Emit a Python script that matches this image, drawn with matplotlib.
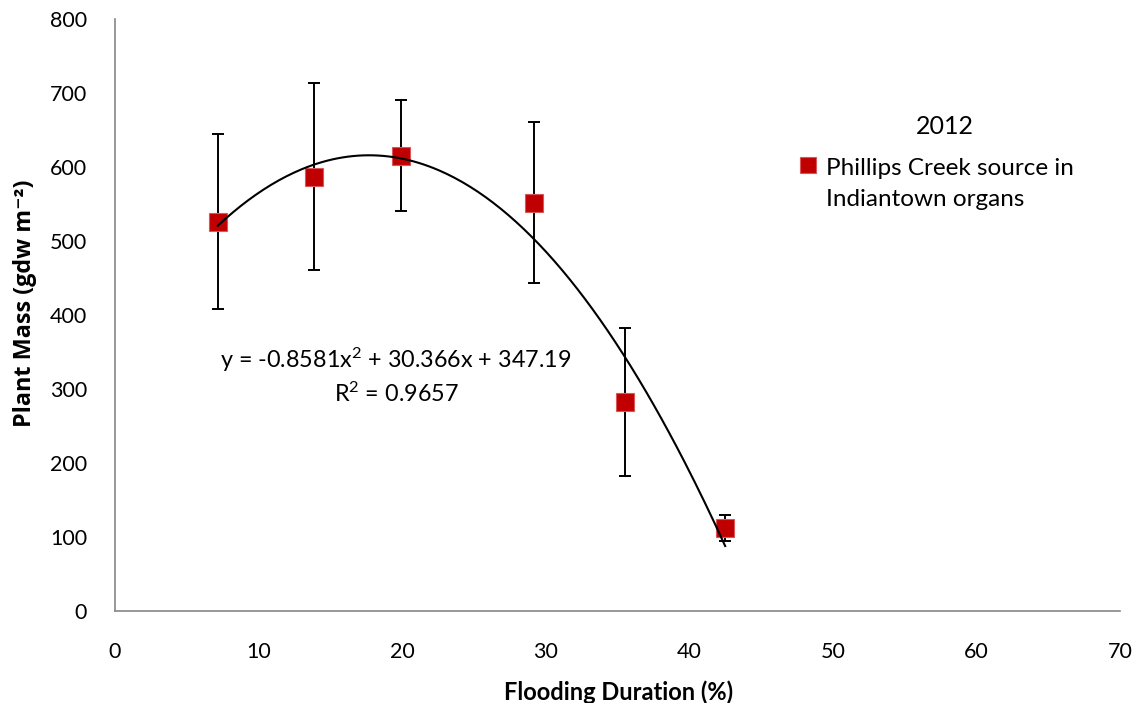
import numpy as np
import matplotlib
matplotlib.use("Agg")
import matplotlib.pyplot as plt
from matplotlib.legend_handler import HandlerLine2D

plt.rcParams['font.family'] = ['Lato', 'DejaVu Sans']
plt.rcParams['mathtext.fontset'] = 'custom'
plt.rcParams['mathtext.rm'] = 'Lato'
plt.rcParams['mathtext.it'] = 'Lato:italic'
plt.rcParams['mathtext.bf'] = 'Lato:bold'

# Data
flood_pct = [7.15, 13.85, 19.9, 29.15, 35.5, 42.5]
plant_mass = [526, 587, 615, 552, 282, 112]
mass_err = [118, 126, 75, 109, 100, 18]
# Trendline coefficients as printed on the chart (a, b, c)
trend_coef = [-0.8581, 30.366, 347.19]
r_squared = 0.9657
x_ticks = [0, 10, 20, 30, 40, 50, 60, 70]
y_ticks = [0, 100, 200, 300, 400, 500, 600, 700, 800]
series_label = "Phillips Creek source in\nIndiantown organs"
legend_title = "2012"

W, H = 1142, 703
fig = plt.figure(figsize=(W / 100, H / 100), dpi=100)
ax = fig.add_axes([115 / W, 1 - 611 / H, (1120 - 115) / W, (611 - 19) / H])

red = '#C00000'
ax.errorbar(flood_pct, plant_mass, yerr=mass_err, fmt='none', ecolor='black',
            elinewidth=1.4, capsize=4.2, capthick=1.4, zorder=2)
ax.plot(flood_pct, plant_mass, linestyle='none', marker='s', markersize=13.5,
        markerfacecolor=red, markeredgecolor='#D9575A', markeredgewidth=0.8,
        zorder=3, label=series_label)

xs = np.linspace(min(flood_pct), max(flood_pct), 200)
ys = np.polyval(trend_coef, xs)
ax.plot(xs, ys, color='black', linewidth=1.5, zorder=4)

ax.set_xlim(0, 70)
ax.set_ylim(0, 800)
ax.set_xticks(x_ticks)
ax.set_yticks(y_ticks)
ax.tick_params(axis='both', length=0, labelsize=15.5, colors='black')
ax.tick_params(axis='y', pad=20)
ax.tick_params(axis='x', pad=22)
for s in ['top', 'right']:
    ax.spines[s].set_visible(False)
for s in ['left', 'bottom']:
    ax.spines[s].set_color('#868686')
    ax.spines[s].set_linewidth(1.2)

ax.set_xlabel('Flooding Duration (%)', fontsize=17, fontweight='bold')
ax.xaxis.label.set_va('center')
ax.xaxis.set_label_coords(0.501, -0.137)
ax.set_ylabel('Plant Mass (gdw m\u207b\u00b2)', fontsize=16.8, fontweight='bold',
              family=['Open Sans', 'DejaVu Sans'])
ax.yaxis.label.set_va('center')
ax.yaxis.set_label_coords(-0.0896, 0.52)

eq = ("y = %.4fx$^{\\mathregular{2}}$ + %.3fx + %.2f\nR$^{\\mathregular{2}}$ = %.4f"
      % (trend_coef[0], trend_coef[1], trend_coef[2], r_squared))
fig.text(396 / W, 1 - 376 / H, eq, ha='center', va='center', fontsize=16.8,
         linespacing=1.35)


class FirstLineHandler(HandlerLine2D):
    def create_artists(self, legend, orig_handle, xdescent, ydescent, width,
                       height, fontsize, trans):
        arts = super().create_artists(legend, orig_handle, xdescent, ydescent,
                                      width, height, fontsize, trans)
        for a in arts:
            a.set_ydata(np.asarray(a.get_ydata()) + 0.8 * fontsize)
            a.set_markersize(11)
        return arts


leg = ax.legend(loc='upper left', bbox_to_anchor=(798 / W, 1 - 158 / H),
                bbox_transform=fig.transFigure, frameon=False, fontsize=17.5,
                handlelength=0.8, handletextpad=0.35, borderaxespad=0,
                borderpad=0,
                handler_map={matplotlib.lines.Line2D: FirstLineHandler()})
for t in leg.get_texts():
    t.set_linespacing(1.6)
fig.text(945 / W, 1 - 127 / H, legend_title, ha='center', va='center',
         fontsize=18)

fig.savefig('out.png', dpi=100)
